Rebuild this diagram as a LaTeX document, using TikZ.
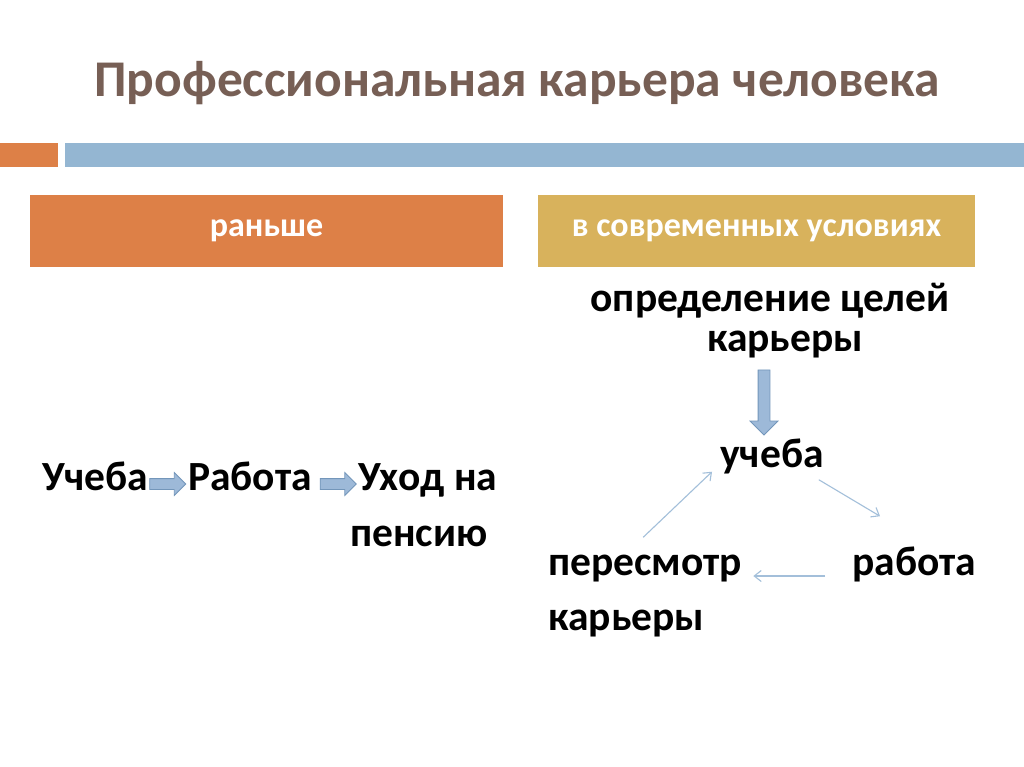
\documentclass[tikz,border=0pt]{standalone}
\usepackage{fontspec}
\setmainfont{Carlito}
\usetikzlibrary{arrows.meta,positioning,shapes.arrows,calc}
\definecolor{ktitle}{HTML}{775F55}
\definecolor{korange}{HTML}{DD8047}
\definecolor{kgold}{HTML}{D8B25C}
\definecolor{kblue}{HTML}{94B6D2}
\definecolor{kfat}{HTML}{9DB9D8}
\definecolor{kedge}{HTML}{7396BA}
\definecolor{kthin}{HTML}{A3BFDA}

\begin{document}
\begin{tikzpicture}[x=1pt,y=-1pt,
  word/.style={inner sep=0,anchor=base west,
    font=\fontsize{41.5}{55}\selectfont\bfseries},
  header/.style={inner sep=0,minimum height=72pt,text=white,
    font=\fontsize{34}{36}\selectfont\bfseries},
  fat/.style={single arrow,draw=kedge,fill=kfat,line width=0.8pt,
    inner xsep=0pt,single arrow head indent=0pt},
  thinarr/.style={-{Straight Barb[length=7pt,width=11pt]},kthin,line width=1.1pt}]
  \useasboundingbox (0,0) rectangle (1024,767);
  \fill[white] (0,0) rectangle (1024,767);
  % title and bars
  \node[inner sep=0,anchor=base,text=ktitle,font=\fontsize{51.5}{54}\selectfont\bfseries]
    (title) at (517,97) {Профессиональная карьера человека};
  \fill[korange] (0,143) rectangle (58,167);
  \fill[kblue] (65,143) rectangle (1024,167);
  % column headers
  \node[header,fill=korange,minimum width=473pt] (before) at (266.5,231) {раньше};
  \node[header,fill=kgold,minimum width=437pt] (now) at (756.5,231) {в современных условиях};
  % left: linear path
  \node[word] (study1) at (42,490) {Учеба};
  \node[word] (work1) at (188,490) {Работа};
  \node[word,align=left,font=\fontsize{41.5}{56}\selectfont\bfseries]
    (retire) at (358,546) {Уход на\\\hspace*{-8pt}пенсию};
  \node[fat,minimum height=36pt,inner ysep=5pt,single arrow head extend=6pt]
    (fa1) at (165,484) {};
  \node[fat,minimum height=36pt,inner ysep=5pt,single arrow head extend=6pt]
    (fa2) at (335.5,484) {};
  % right: cycle
  \node[word,anchor=base,align=center,font=\fontsize{41.5}{40}\selectfont\bfseries]
    (goals) at (770,351) {определение целей\\\hspace*{30pt}карьеры};
  \node[fat,rotate=-90,minimum height=65pt,inner ysep=5.5pt,
    single arrow head extend=8pt] (fa3) at (764,399.5) {};
  \node[word] (study2) at (720,467) {учеба};
  \node[word] (work2) at (852,575) {работа};
  \node[word,align=left] (review) at (548,630) {пересмотр\\карьеры};
  \draw[thinarr] ($(review.north)+(-2,-17)$) -- ($(study2.south west)+(-8,-2)$);
  \draw[thinarr] ($(study2.south east)+(-5,6)$) -- ($(work2.north west)+(28,-30)$);
  \draw[thinarr] ($(work2.base west)+(-27,1)$) -- ($(review.east |- work2.base)+(11,1)$);
\end{tikzpicture}
\end{document}
